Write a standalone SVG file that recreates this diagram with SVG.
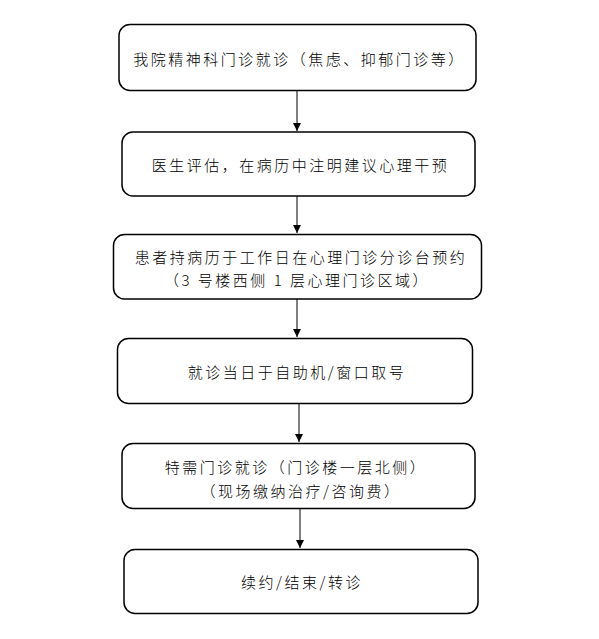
<svg xmlns="http://www.w3.org/2000/svg" width="599" height="639" viewBox="0 0 599 639">
<defs>
<marker id="ah" viewBox="0 0 10 10" refX="10" refY="5" markerWidth="8" markerHeight="9" markerUnits="userSpaceOnUse" orient="auto">
<path d="M0,0 L10,5 L0,10 z" fill="#000"/>
</marker>
<style>
.box{fill:#fff;stroke:#000;stroke-width:1.5}
.t{font-family:"Noto Sans CJK SC","Noto Sans",sans-serif;font-size:15px;font-weight:300;letter-spacing:2.5px;fill:#000;text-anchor:middle;dominant-baseline:central}
.c{stroke:#000;stroke-width:1;fill:none;marker-end:url(#ah)}
</style>
</defs>
<rect width="599" height="639" fill="#fff"/>
<g id="connectors">
<line class="c" x1="297" y1="91" x2="297" y2="131"/>
<line class="c" x1="297" y1="196" x2="297" y2="233"/>
<line class="c" x1="297" y1="299" x2="297" y2="337"/>
<line class="c" x1="299" y1="403" x2="299" y2="442"/>
<line class="c" x1="300" y1="508" x2="300" y2="548"/>
</g>
<g id="n1">
<rect class="box" x="119" y="24.5" width="357" height="66" rx="11"/>
<text class="t" x="299.5" y="58">我院精神科门诊就诊（焦虑、抑郁门诊等）</text>
</g>
<g id="n2">
<rect class="box" x="122" y="132" width="353" height="64" rx="11"/>
<text class="t" x="300.5" y="164">医生评估，在病历中注明建议心理干预</text>
</g>
<g id="n3">
<rect class="box" x="113.5" y="234.5" width="368" height="64.5" rx="11"/>
<text class="t" x="301" y="256.5">患者持病历于工作日在心理门诊分诊台预约</text>
<text class="t" x="297" y="279">（3 号楼西侧 1 层心理门诊区域）</text>
</g>
<g id="n4">
<rect class="box" x="117.5" y="338.5" width="355" height="65" rx="11"/>
<text class="t" x="297" y="371.5">就诊当日于自助机/窗口取号</text>
</g>
<g id="n5">
<rect class="box" x="122" y="443.5" width="353" height="65" rx="11"/>
<text class="t" x="296" y="466.5">特需门诊就诊（门诊楼一层北侧）</text>
<text class="t" x="301" y="490">（现场缴纳治疗/咨询费）</text>
</g>
<g id="n6">
<rect class="box" x="124" y="549.5" width="354" height="64" rx="11"/>
<text class="t" x="302" y="581.5">续约/结束/转诊</text>
</g>
</svg>
